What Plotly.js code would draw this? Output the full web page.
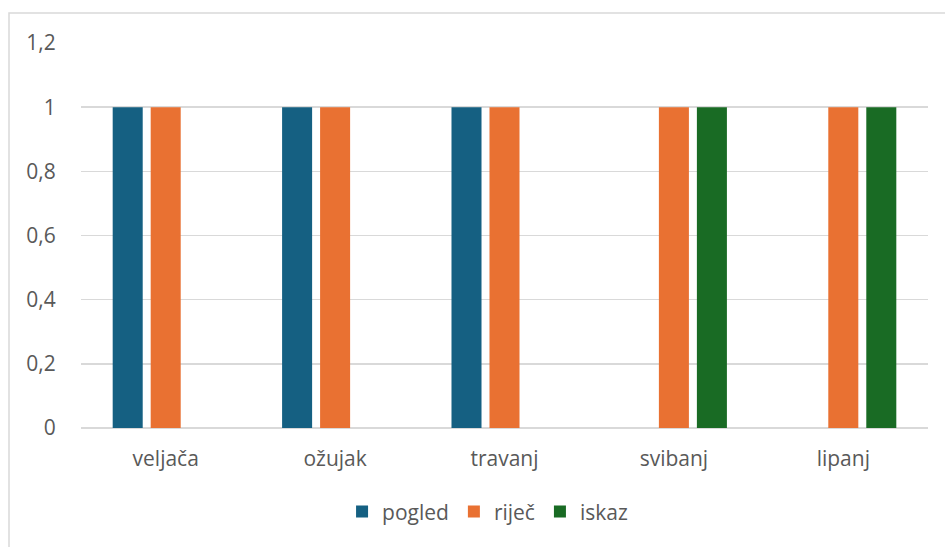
<!DOCTYPE html>
<html>
<head>
<meta charset="utf-8">
<script src="https://cdn.plot.ly/plotly-3.0.1.min.js"></script>
<style>
html,body{margin:0;padding:0;background:#fff;overflow:hidden;}
#chart{width:945px;height:547px;}
</style>
</head>
<body>
<div id="chart"></div>
<script>
const categories = ["veljača", "ožujak", "travanj", "svibanj", "lipanj"];
const seriesNames = ["pogled", "riječ", "iskaz"];
const pogled = [1, 1, 1, 0, 0];
const rijec = [1, 1, 1, 1, 1];
const iskaz = [0, 0, 0, 1, 1];
const yTicks = [0, 0.2, 0.4, 0.6, 0.8, 1, 1.2];
const colors = ["#156082", "#E97132", "#196B24"];

const values = [pogled, rijec, iskaz];
const traces = values.map((v, i) => ({
  type: "bar",
  name: seriesNames[i],
  x: categories,
  y: v,
  marker: {color: colors[i]},
  hoverinfo: "x+y+name"
}));

const font = {family: "Open Sans, Liberation Sans, sans-serif", size: 21, color: "#595959"};

const layout = {
  width: 945,
  height: 547,
  margin: {l: 81, r: 17, t: 43, b: 119},
  paper_bgcolor: "#ffffff",
  plot_bgcolor: "#ffffff",
  separators: ", ",
  font: font,
  barmode: "group",
  bargap: 0.327,
  bargroupgap: 0.21,
  showlegend: true,
  legend: {
    orientation: "h",
    x: 0.48, xanchor: "center",
    y: -0.218, yanchor: "middle",
    font: font,
    itemwidth: 30,
    traceorder: "normal"
  },
  xaxis: {
    type: "category",
    showgrid: false,
    showline: false,
    zeroline: false,
    ticks: "outside",
    ticklen: 12,
    tickcolor: "rgba(0,0,0,0)",
    tickfont: font,
    fixedrange: true
  },
  yaxis: {
    range: [0, 1.2],
    tickvals: yTicks,
    showgrid: true,
    gridcolor: "#d9d9d9",
    gridwidth: 1.6,
    zeroline: true,
    zerolinecolor: "#d9d9d9",
    zerolinewidth: 1.6,
    showline: false,
    ticks: "outside",
    ticklen: 20,
    tickcolor: "rgba(0,0,0,0)",
    tickfont: font,
    fixedrange: true
  },
  shapes: [{
    type: "rect",
    xref: "paper", yref: "paper",
    x0: (9 - 81) / 847, x1: 1.2,
    y0: -0.6, y1: 1 + (43 - 13) / 385,
    line: {color: "#d9d9d9", width: 1.5},
    fillcolor: "rgba(0,0,0,0)",
    layer: "below"
  }]
};

Plotly.newPlot("chart", traces, layout, {displayModeBar: false, staticPlot: true});
</script>
</body>
</html>
